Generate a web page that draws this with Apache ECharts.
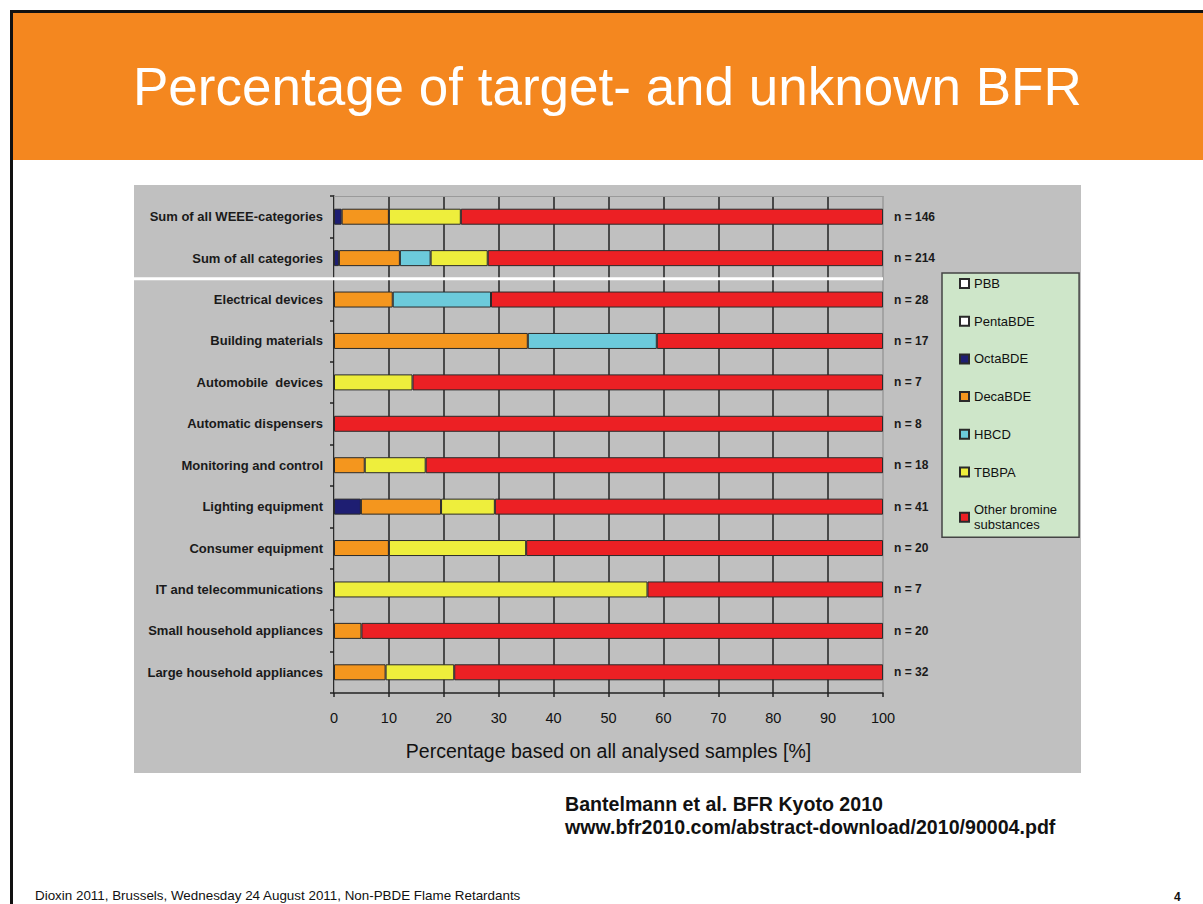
<!DOCTYPE html>
<html>
<head>
<meta charset="utf-8">
<script src="https://cdn.jsdelivr.net/npm/echarts@6/dist/echarts.min.js"></script>
<style>
html,body{margin:0;padding:0;background:#fff;}
#c{width:1203px;height:904px;}
</style>
</head>
<body>
<div id="c"></div>
<script>
var categories = ['Sum of all WEEE-categories','Sum of all categories','Electrical devices','Building materials','Automobile  devices','Automatic dispensers','Monitoring and control','Lighting equipment','Consumer equipment','IT and telecommunications','Small household appliances','Large household appliances'];
var nLabels = ['n = 146','n = 214','n = 28','n = 17','n = 7','n = 8','n = 18','n = 41','n = 20','n = 7','n = 20','n = 32'];
var xTicks = [0,10,20,30,40,50,60,70,80,90,100];
var pbb   = [0,0,0,0,0,0,0,0,0,0,0,0];
var penta = [0,0,0,0,0,0,0,0,0,0,0,0];
var octa  = [1.4,0.9,0,0,0,0,0,4.9,0,0,0,0];
var deca  = [8.6,11.1,10.7,35.3,0,0,5.6,14.6,10,0,5,9.4];
var hbcd  = [0,5.6,17.9,23.5,0,0,0,0,0,0,0,0];
var tbbpa = [13.1,10.4,0,0,14.3,0,11.1,9.8,25,57.1,0,12.5];
var other = [76.9,72.0,71.4,41.2,85.7,100,83.3,70.7,65,42.9,95,78.1];

var seriesNames = ['PBB','PentaBDE','OctaBDE','DecaBDE','HBCD','TBBPA','Other bromine substances'];
var seriesData = [pbb,penta,octa,deca,hbcd,tbbpa,other];
var seriesColors = ['#ffffff','#ffffff','#1e1e72','#f4961e','#6ccadb','#eeee3c','#ec2024'];

var chart = echarts.init(document.getElementById('c'), null, {renderer:'svg'});

var series = seriesNames.map(function(name, i){
  return {
    name: name,
    type: 'bar',
    stack: 'all',
    barWidth: 16,
    data: seriesData[i].map(function(v){ return v === 0 ? '-' : v; }),
    itemStyle: {color: seriesColors[i], borderColor: '#2a2a2a', borderWidth: 1},
    emphasis: {disabled: true},
    animation: false
  };
});

var splitColors = xTicks.map(function(t, i){
  if (i === xTicks.length - 1) return '#9a9a9a';
  return '#222';
});

var font = '"Liberation Sans", Arial, sans-serif';

var option = {
  animation: false,
  backgroundColor: '#ffffff',
  graphic: {
    elements: [
      {type:'rect', silent:true, z:-10, shape:{x:13,y:13,width:1190,height:147}, style:{fill:'#f4871f'}},
      {type:'rect', silent:true, z:-10, shape:{x:10,y:10,width:1193,height:3}, style:{fill:'#111'}},
      {type:'rect', silent:true, z:-10, shape:{x:10,y:10,width:3,height:894}, style:{fill:'#111'}},
      {type:'rect', silent:true, z:-10, shape:{x:134,y:185,width:947,height:588}, style:{fill:'#c0c0c0'}},
      {type:'text', silent:true, left:133, top:60, style:{text:'Percentage of target- and unknown BFR', fill:'#ffffff', font:'53px ' + font}},
      {type:'text', silent:true, left:565, top:794, style:{text:'Bantelmann et al. BFR Kyoto 2010', fill:'#111', font:'bold 19.6px ' + font}},
      {type:'text', silent:true, left:565, top:817, style:{text:'www.bfr2010.com/abstract-download/2010/90004.pdf', fill:'#111', font:'bold 19.6px ' + font}},
      {type:'text', silent:true, left:35, top:889, style:{text:'Dioxin 2011, Brussels, Wednesday 24 August 2011, Non-PBDE Flame Retardants', fill:'#111', font:'13.4px ' + font}},
      {type:'text', silent:true, left:1174, top:891, style:{text:'4', fill:'#111', font:'bold 12px ' + font}}
    ]
  },
  legend: {
    orient: 'vertical',
    left: 942,
    top: 273,
    data: seriesNames,
    itemWidth: 9,
    itemHeight: 9,
    itemGap: 22.7,
    icon: 'rect',
    selectedMode: false,
    backgroundColor: '#cee6c9',
    borderColor: '#444',
    borderWidth: 1.5,
    borderRadius: 0,
    padding: [3, 22, 5, 17],
    formatter: function(name){ return name === 'Other bromine substances' ? 'Other bromine\nsubstances' : name; },
    textStyle: {fontSize: 13, color: '#111', lineHeight: 15, fontFamily: font}
  },
  grid: {left: 334, right: 320, top: 196, bottom: 211, containLabel: false},
  xAxis: [{
    type: 'value',
    min: 0, max: 100, interval: 10,
    position: 'bottom',
    name: 'Percentage based on all analysed samples [%]',
    nameLocation: 'middle',
    nameGap: 48,
    nameTextStyle: {fontSize: 19.5, color: '#111', fontFamily: font},
    axisLine: {show: true, lineStyle: {color: '#222', width: 1.5}},
    axisTick: {show: true, length: 4, inside: false, lineStyle: {color: '#222', width: 1.5}},
    axisLabel: {margin: 17, fontSize: 14.5, color: '#111', fontFamily: font},
    splitLine: {show: true, lineStyle: {color: splitColors, width: 1.5}}
  }, {
    type: 'value',
    min: 0, max: 100, interval: 10,
    position: 'top',
    axisLine: {show: true, lineStyle: {color: '#9a9a9a', width: 1}},
    axisTick: {show: false},
    axisLabel: {show: false},
    splitLine: {show: false}
  }],
  yAxis: [{
    type: 'category',
    data: categories,
    inverse: true,
    position: 'left',
    axisLine: {show: true, lineStyle: {color: '#222', width: 1.5}},
    axisTick: {show: true, length: 4, lineStyle: {color: '#222', width: 1.5}},
    axisLabel: {margin: 11, fontSize: 13, fontWeight: 'bold', color: '#1a1a1a', fontFamily: font},
    splitLine: {show: false}
  }, {
    type: 'category',
    data: nLabels,
    inverse: true,
    position: 'right',
    axisLine: {show: true, lineStyle: {color: '#9a9a9a', width: 1}},
    axisTick: {show: false},
    axisLabel: {margin: 11, fontSize: 12, fontWeight: 'bold', color: '#1a1a1a', fontFamily: font},
    splitLine: {show: false}
  }],
  series: series
};

chart.setOption(option);

// white separator between the two summary rows and the individual categories
var y1 = chart.convertToPixel({yAxisIndex: 0}, categories[1]);
var y2 = chart.convertToPixel({yAxisIndex: 0}, categories[2]);
var xEnd = chart.convertToPixel({xAxisIndex: 0}, 100);
var sepY = (y1 + y2) / 2;
chart.setOption({
  graphic: {
    elements: [
      {type:'rect', id:'sep', silent:true, z:100, shape:{x:134, y:sepY - 1.5, width:xEnd - 134, height:3}, style:{fill:'#ffffff'}}
    ]
  }
});
</script>
</body>
</html>
